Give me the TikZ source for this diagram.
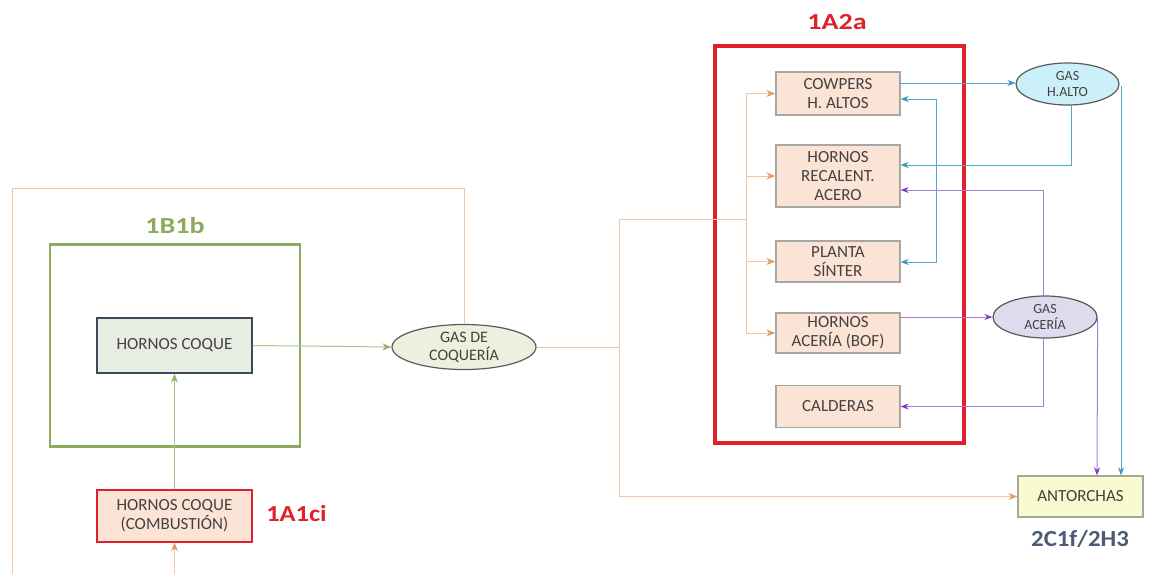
\documentclass[tikz,border=0pt]{standalone}
\usepackage{fontspec}
\setmainfont{Carlito}
\usetikzlibrary{arrows.meta,shapes.geometric}
\definecolor{txt}{HTML}{464040}
\definecolor{orl}{HTML}{F0C6A8}
\definecolor{ora}{HTML}{E39B6B}
\definecolor{grl}{HTML}{A9C48E}
\definecolor{gra}{HTML}{95B66A}
\definecolor{grb}{HTML}{8EAA5C}
\definecolor{redb}{HTML}{E0202A}
\definecolor{blu}{HTML}{4FA9CC}
\definecolor{blua}{HTML}{3B93BC}
\definecolor{pul}{HTML}{A67ED9}
\definecolor{pua}{HTML}{7B3BC9}
\definecolor{peach}{HTML}{FBE4D5}
\definecolor{lab2}{HTML}{4A5A78}
\definecolor{hcfill}{HTML}{E8EDE3}
\definecolor{hcdraw}{HTML}{3C4A5C}
\definecolor{gcfill}{HTML}{EBF1DE}
\definecolor{ghfill}{HTML}{CCF0FA}
\definecolor{gafill}{HTML}{DCDCEE}
\definecolor{antfill}{HTML}{FAFAD0}
\definecolor{antdraw}{HTML}{A8A898}
\newcommand{\widelab}[1]{\scalebox{1.22}[1]{#1}}
\tikzset{
  x=1pt,y=-1pt,
  box/.style={draw=black!35,line width=1.3pt,fill=peach,text=txt,align=center,
    font=\fontsize{17}{19}\selectfont,inner sep=0pt,minimum width=124pt},
  gasell/.style={ellipse,draw=black!65,line width=1.2pt,text=txt,align=center,
    font=\fontsize{14}{16}\selectfont,inner sep=0pt},
  lab/.style={font=\fontsize{23}{25}\selectfont\bfseries},
  orarrow/.style={draw=orl,line width=1pt,-{Stealth[length=9pt,width=7pt,color=ora]}},
  orline/.style={draw=orl,line width=1pt},
  grarrow/.style={draw=grl,line width=1pt,-{Stealth[length=9pt,width=7pt,color=gra]}},
  bluarrow/.style={draw=blu,line width=1pt,-{Stealth[length=8pt,width=6pt,color=blua]}},
  puarrow/.style={draw=pul,line width=1pt,-{Stealth[length=8pt,width=6pt,color=pua]}},
}
\begin{document}
\begin{tikzpicture}
\useasboundingbox (0,0) rectangle (1166,574);
% group frames
\node[draw=grb,line width=2.5pt,minimum width=250pt,minimum height=202pt,inner sep=0pt] (g1) at (175,345.5) {};
\node[lab,text=grb] (l1) at (175,226) {\widelab{1B1b}};
\node[draw=redb,line width=3.2pt,minimum width=249pt,minimum height=397pt,inner sep=0pt] (g2) at (839.5,244.5) {};
\node[lab,text=redb] (l2) at (837,22) {\widelab{1A2a}};
% nodes
\node[box,minimum width=155pt,minimum height=55pt,fill=hcfill,draw=hcdraw] (hc) at (174.5,345.5) {HORNOS COQUE};
\node[box,minimum width=155pt,minimum height=52pt,draw=redb,line width=2pt] (comb) at (174.5,515.5) {HORNOS COQUE\\(COMBUSTIÓN)};
\node[lab,text=redb] (l3) at (296.5,514) {\scalebox{1.15}[1]{1A1ci}};
\node[gasell,minimum width=144pt,minimum height=45pt,fill=gcfill,font=\fontsize{16}{18}\selectfont] (gc) at (464,347) {GAS DE\\COQUERÍA};
\node[box,minimum height=43pt] (cow) at (838,93.5) {COWPERS\\H. ALTOS};
\node[box,minimum height=62pt] (rec) at (838,176) {HORNOS\\RECALENT.\\ACERO};
\node[box,minimum height=41pt] (sin) at (838,261.5) {PLANTA\\SÍNTER};
\node[box,minimum height=40pt] (bof) at (838,333) {HORNOS\\ACERÍA (BOF)};
\node[box,minimum height=42pt] (cal) at (838,406.5) {CALDERAS};
\node[gasell,minimum width=103pt,minimum height=42pt,fill=ghfill] (gh) at (1067.5,84) {GAS\\H.ALTO};
\node[gasell,minimum width=104pt,minimum height=42pt,fill=gafill] (ga) at (1045,317) {GAS\\ACERÍA};
\node[box,minimum width=125pt,minimum height=41pt,fill=antfill,draw=antdraw] (ant) at (1080.5,496.5) {ANTORCHAS};
\node[lab,text=lab2] (l4) at (1080,539) {\scalebox{1.08}[1]{2C1f/2H3}};
% coordinates
\coordinate (tl) at (12,188);
\coordinate (bl) at (12,574);
\coordinate (bin) at (174.5,574);
\coordinate (s1) at (619,347);
\coordinate (s2) at (746,219);
% green flows
\draw[grarrow] (hc.east) -- (gc.west);
\draw[grarrow] (comb.north) -- (hc.south);
\draw[orarrow] (bin) -- (comb.south);
% coke gas loop to the left
\draw[orline] (gc.north) -- (gc.north |- tl) -- (tl) -- (bl);
% coke gas distribution
\draw[orline] (gc.east) -- (s1);
\draw[orline] (s1 |- s2) -- (s1 |- ant.west);
\draw[orarrow] (s1 |- ant.west) -- (ant.west);
\draw[orline] (s1 |- s2) -- (s2);
\draw[orline] (s2 |- cow.west) -- (s2 |- bof.west);
\draw[orarrow] (s2 |- cow.west) -- (cow.west);
\draw[orarrow] (s2 |- rec.west) -- (rec.west);
\draw[orarrow] (s2 |- sin.west) -- (sin.west);
\draw[orarrow] (s2 |- bof.west) -- (bof.west);
% blast furnace gas
\coordinate (c1) at (900,83);
\draw[bluarrow] (c1) -- (c1 -| gh.west);
\coordinate (r1) at (936,99);
\coordinate (r2) at (936,262);
\draw[bluarrow] (r1) -- (cow.east |- r1);
\draw[bluarrow] (r1) -- (r2) -- (sin.east |- r2);
\coordinate (h1) at (1071,165);
\draw[bluarrow] (h1 |- gh.south) -- (h1) -- (rec.east |- h1);
\coordinate (h2) at (1121,86);
\draw[bluarrow] (h2) -- (h2 |- ant.north);
% steel gas
\draw[puarrow] (bof.east |- ga.west) -- (ga.west);
\coordinate (p1) at (1043,190);
\draw[puarrow] (ga.north -| p1) -- (p1) -- (rec.east |- p1);
\coordinate (p2) at (1043,406.5);
\draw[puarrow] (ga.south -| p2) -- (p2) -- (cal.east);
\coordinate (p3) at (1097,317);
\draw[puarrow] (ga.east) -- (p3 |- ant.north);
\end{tikzpicture}
\end{document}
